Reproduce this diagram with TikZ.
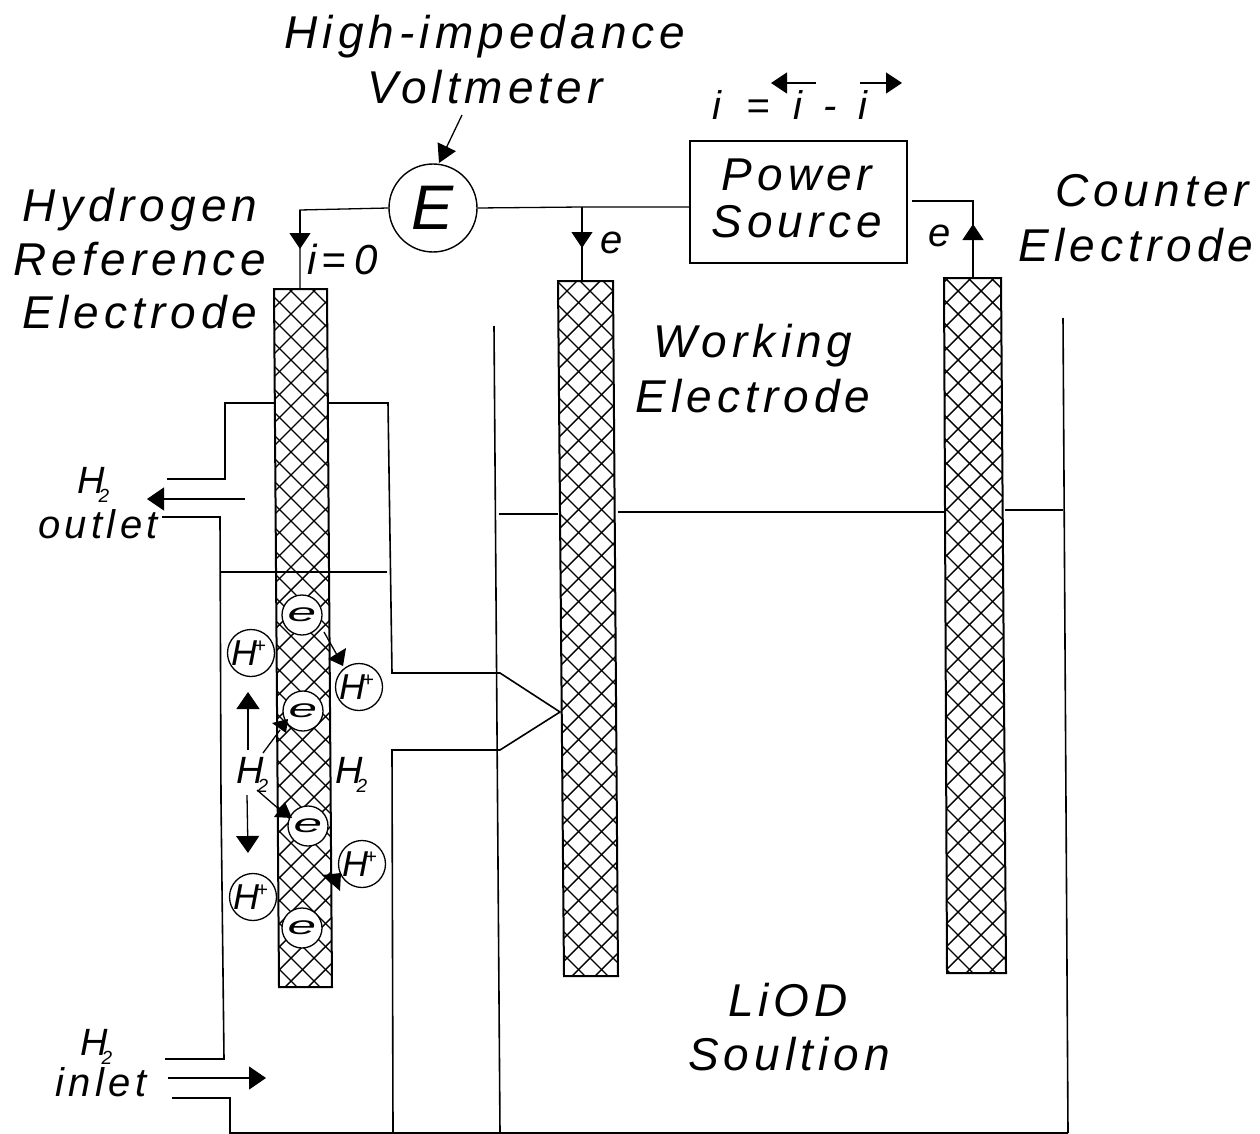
\documentclass[tikz,border=0pt]{standalone}
\usepackage{fontspec}
\setmainfont{Liberation Sans}
\newfontfamily\spaced[LetterSpace=11]{Liberation Sans}
\usetikzlibrary{arrows.meta}
\tikzset{
  x=1pt,y=-1pt,
  wall/.style={line width=1.6pt,line join=miter},
  thin wall/.style={line width=1.2pt},
  lab/.style={font=\spaced\itshape\fontsize{46}{50}\selectfont,inner sep=0pt,anchor=base},
  small lab/.style={font=\spaced\itshape\fontsize{40}{44}\selectfont,inner sep=0pt,anchor=base},
  hion/.style={circle,draw,line width=1.3pt,minimum size=47pt,inner sep=0pt,font=\itshape\fontsize{36}{38}\selectfont},
  eon/.style={circle,draw,line width=1.3pt,fill=white,minimum size=40pt,inner sep=0pt},
  hsub/.style={inner sep=0pt,anchor=base west,font=\itshape\fontsize{38}{40}\selectfont},
  shaft/.style={line width=1.3pt},
  head/.style={fill=black,draw=none},
  bigarrow/.style={line width=1.3pt,-{Triangle[length=17pt,width=23pt]}},
  wirearrow/.style={line width=1.3pt,-{Triangle[length=16pt,width=21pt]}},
  electrode/.style={line width=2pt}
}
\newcommand{\hatched}[6]{%
  \begin{scope}
    \clip (#1,#3) -- (#2,#3) -- (#5,#6) -- (#4,#6) -- cycle;
    \foreach \d in {-1150,-1127,...,1260}{
      \draw[line width=1.4pt] (\d,0) -- (\d+1134,1134);
      \draw[line width=1.4pt] (\d,1134) -- (\d+1134,0);
    }
  \end{scope}
  \draw[electrode] (#1,#3) -- (#2,#3) -- (#5,#6) -- (#4,#6) -- cycle;
}
\newcommand{\Hsub}{H\kern-6pt\smash{\raisebox{-9pt}{\fontsize{19}{19}\selectfont 2}}}
\newcommand{\Hplus}{\kern-5pt H\kern-3pt\smash{\raisebox{13pt}{\fontsize{20}{20}\selectfont +}}}
\newcommand{\eminus}{\scalebox{1.9}[0.95]{\itshape\fontsize{27}{27}\selectfont e}}
\begin{document}
\begin{tikzpicture}
\useasboundingbox (0,0) rectangle (1260,1134);
% electrodes
\hatched{274}{327}{289}{279}{332}{987}
\hatched{558}{613}{281}{564}{618}{976}
\hatched{944}{1001}{278}{947}{1006}{973}
% named points
\coordinate (refTop) at (300,289);
\coordinate (workTop) at (582,281);
\coordinate (counterTop) at (973,278);
\coordinate (junction) at (582,207);
\coordinate (refKnee) at (300,210);
\coordinate (counterKnee) at (973,201);
% main cell
\draw[wall] (494,326) -- (500,1133);
\draw[wall] (1063,318) -- (1068,1133);
\draw[wall] (229,1133) -- (1068,1133);
\draw[thin wall] (499,514) -- (558,514);
\draw[thin wall] (618,512) -- (944,512);
\draw[thin wall] (1005,510) -- (1063,510);
% reference compartment
\draw[wall] (274,403) -- (225,403) -- (225,479) -- (167,479);
\draw[wall] (328,403) -- (388,403) -- (392,673) -- (500,673) -- (560,712) -- (500,750) -- (392,750) -- (393,1133);
\draw[wall] (162,517) -- (220,517) -- (221,800) -- (224,1059) -- (165,1059);
\draw[wall] (172,1098) -- (230,1098) -- (230,1133);
\draw[thin wall] (220,572) -- (387,572);
% gas flow
\coordinate (outA) at (245,499); \coordinate (outB) at (147,499);
\coordinate (inA) at (168,1078); \coordinate (inB) at (266,1078);
\draw[bigarrow] (outA) -- (outB);
\draw[bigarrow] (inA) -- (inB);
% instruments
\node[circle,draw,line width=1.4pt,minimum size=88pt,inner sep=0pt,font=\itshape\fontsize{63}{65}\selectfont] (E) at (433,208) {E};
\node[draw,line width=1.7pt,minimum width=217pt,minimum height=122pt,inner sep=0pt] (PS) at (798.5,202) {};
\draw[shaft] (E.west) -- (refKnee) -- (refTop);
\draw[wirearrow] (refKnee) -- (300,249);
\draw[shaft] (E.east) -- (junction) -- (PS.west |- junction);
\draw[shaft] (junction) -- (workTop);
\draw[wirearrow] (junction) -- (582,248);
\draw[shaft] (912,201) -- (counterKnee) -- (counterTop);
\draw[wirearrow] (counterTop) -- (973,224);
\coordinate (vmA) at (462,115);
\draw[shaft,-{Triangle[length=18pt,width=20pt]}] (vmA) -- (439,163);
% current arrows
\coordinate (cl) at (816,83); \coordinate (cr) at (860,83);
\draw[wirearrow] (cl) -- (771,83);
\draw[wirearrow] (cr) -- (902,83);
% ions
\node[hion] (h1) at (251,653) {\Hplus};
\node[hion] (h2) at (359,687) {\Hplus};
\node[hion] (h3) at (253,897) {\Hplus};
\node[hion] (h4) at (362,864) {\Hplus};
\node[eon] (e1) at (302,615) {\eminus};
\node[eon] (e2) at (303,711) {\eminus};
\node[eon] (e3) at (308,826) {\eminus};
\node[eon] (e4) at (302,928) {\eminus};
% H2 labels
\node[hsub] (H2l) at (236,783) {\Hsub};
\node[hsub] (H2r) at (335,783) {\Hsub};
% reaction arrows
\draw[shaft] (324,632) -- (337,655);
\fill[head] (346,648) -- (328,659) -- (343,666) -- cycle;
\draw[shaft] (263,753) -- (280,730);
\fill[head] (272,723) -- (288,719) -- (286,733) -- cycle;
\draw[shaft] (257,790) -- (280,810);
\fill[head] (285,802) -- (274,817) -- (292,818) -- cycle;
\fill[head] (322,875) -- (341,873) -- (340,891) -- cycle;
\coordinate (upA) at (248,750); \coordinate (upB) at (248,692);
\coordinate (dnA) at (247,795); \coordinate (dnB) at (248,853);
\draw[bigarrow] (upA) -- (upB);
\draw[bigarrow] (dnA) -- (dnB);
% texts
\node[lab] (t1) at (485,49) {High-impedance};
\node[lab] (t2) at (485,104) {Voltmeter};
\node[lab] (t3) at (140,221) {Hydrogen};
\node[lab] (t4) at (140,275) {Reference};
\node[lab] (t5) at (140,328) {Electrode};
\node[lab] (t6) at (797,191) {Power};
\node[lab] (t7) at (797,237) {Source};
\node[lab] (t8) at (1152,206) {Counter};
\node[lab] (t9) at (1136,261) {Electrode};
\node[lab] (t10) at (753,357) {Working};
\node[lab] (t11) at (753,412) {Electrode};
\node[lab] (t12) at (788,1016) {LiOD};
\node[lab] (t13) at (789,1070) {Soultion};
\node[small lab] (t14) at (98,538) {outlet};
\node[small lab] (t15) at (101,1096) {inlet};
\node[hsub] (t16) at (77,493) {\Hsub};
\node[hsub] (t17) at (80,1055) {\Hsub};
\node[inner sep=0pt,anchor=base west,font=\itshape\fontsize{42}{44}\selectfont] (t18) at (307,274) {i\kern5pt=\kern8pt0};
\node[small lab] (t19) at (612,253) {e};
\node[small lab] (t20) at (940,246) {e};
\node[inner sep=0pt,anchor=base west,font=\itshape\fontsize{40}{42}\selectfont] (t21) at (712,120) {i\hspace{25pt}=\hspace{24pt}i\hspace{21pt}-\hspace{22pt}i};
\end{tikzpicture}
\end{document}
